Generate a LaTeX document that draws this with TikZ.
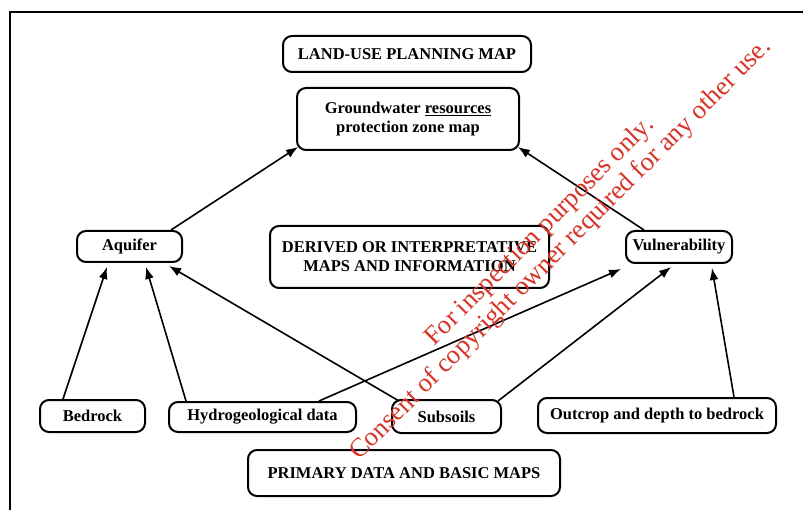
\documentclass[tikz,border=0pt]{standalone}
\usepackage{fontspec}
\setmainfont{Liberation Serif}
\usetikzlibrary{arrows.meta}
\definecolor{wm}{RGB}{214,52,40}
\begin{document}
\begin{tikzpicture}[x=1pt,y=-1pt,
 box/.style={draw, line width=2pt, rounded corners=9pt, font=\bfseries\fontsize{16.5}{19}\selectfont, align=center, inner sep=0pt},
 arr/.style={-{Latex[length=12pt,width=9pt]}, line width=1.6pt},
 wmark/.style={text=wm, font=\fontsize{26.5}{28}\selectfont, rotate=45, inner sep=0pt}]
\useasboundingbox (0,0) rectangle (803,510);
\fill[white] (0,0) rectangle (803,510);
\draw[line width=2pt] (10,510) -- (10,12) -- (803,12);

\node[box, minimum width=248, minimum height=36] (land) at (407,54) {LAND-USE PLANNING MAP};
\node[box, minimum width=222, minimum height=62] (gw) at (408,119) {Groundwater \underline{resources}\\protection zone map};
\node[box, minimum width=105, minimum height=31] (aq) at (129.5,246.5) {Aquifer};
\node[box, minimum width=279, minimum height=62] (der) at (409.5,257) {DERIVED OR INTERPRETATIVE\\MAPS AND INFORMATION};
\node[box, minimum width=106, minimum height=32] (vul) at (679,247) {Vulnerability};
\node[box, minimum width=105, minimum height=32] (bed) at (92.5,416) {Bedrock};
\node[box, minimum width=187, minimum height=30] (hyd) at (262.5,417) {Hydrogeological data};
\node[box, minimum width=109, minimum height=33] (sub) at (446.5,416.5) {Subsoils};
\node[box, minimum width=238, minimum height=35] (out) at (657,415.5) {Outcrop and depth to bedrock};
\node[box, minimum width=312, minimum height=46] (pri) at (404,473) {PRIMARY DATA AND BASIC MAPS};

\draw[arr] ([xshift=-12pt]aq.north east) -- ([xshift=2pt,yshift=4pt]gw.south west);
\draw[arr] ([xshift=19pt]vul.north west) -- ([xshift=-2pt,yshift=4pt]gw.south east);
\draw[arr] ([xshift=24pt]bed.north west) -- ([xshift=31pt,yshift=-4pt]aq.south west);
\draw[arr] ([xshift=18pt]hyd.north west) -- ([xshift=16.5pt,yshift=-4pt]aq.south);
\draw[arr] ([xshift=8pt,yshift=-2pt]sub.north west) -- ([xshift=-14pt,yshift=-3pt]aq.south east);
\draw[arr] ([xshift=-38pt]hyd.north east) -- ([xshift=-4pt,yshift=-5pt]vul.south west);
\draw[arr] ([xshift=-4pt,yshift=-2pt]sub.north east) -- ([xshift=-8pt,yshift=-3pt]vul.south);
\draw[arr] ([xshift=-43pt]out.north east) -- ([xshift=-21pt,yshift=-4pt]vul.south east);

\node[wmark] (wm1) at (540,232) {For inspection purposes only.};
\node[wmark] (wm2) at (561,250) {Consent of copyright owner required for any other use.};
\end{tikzpicture}
\end{document}
